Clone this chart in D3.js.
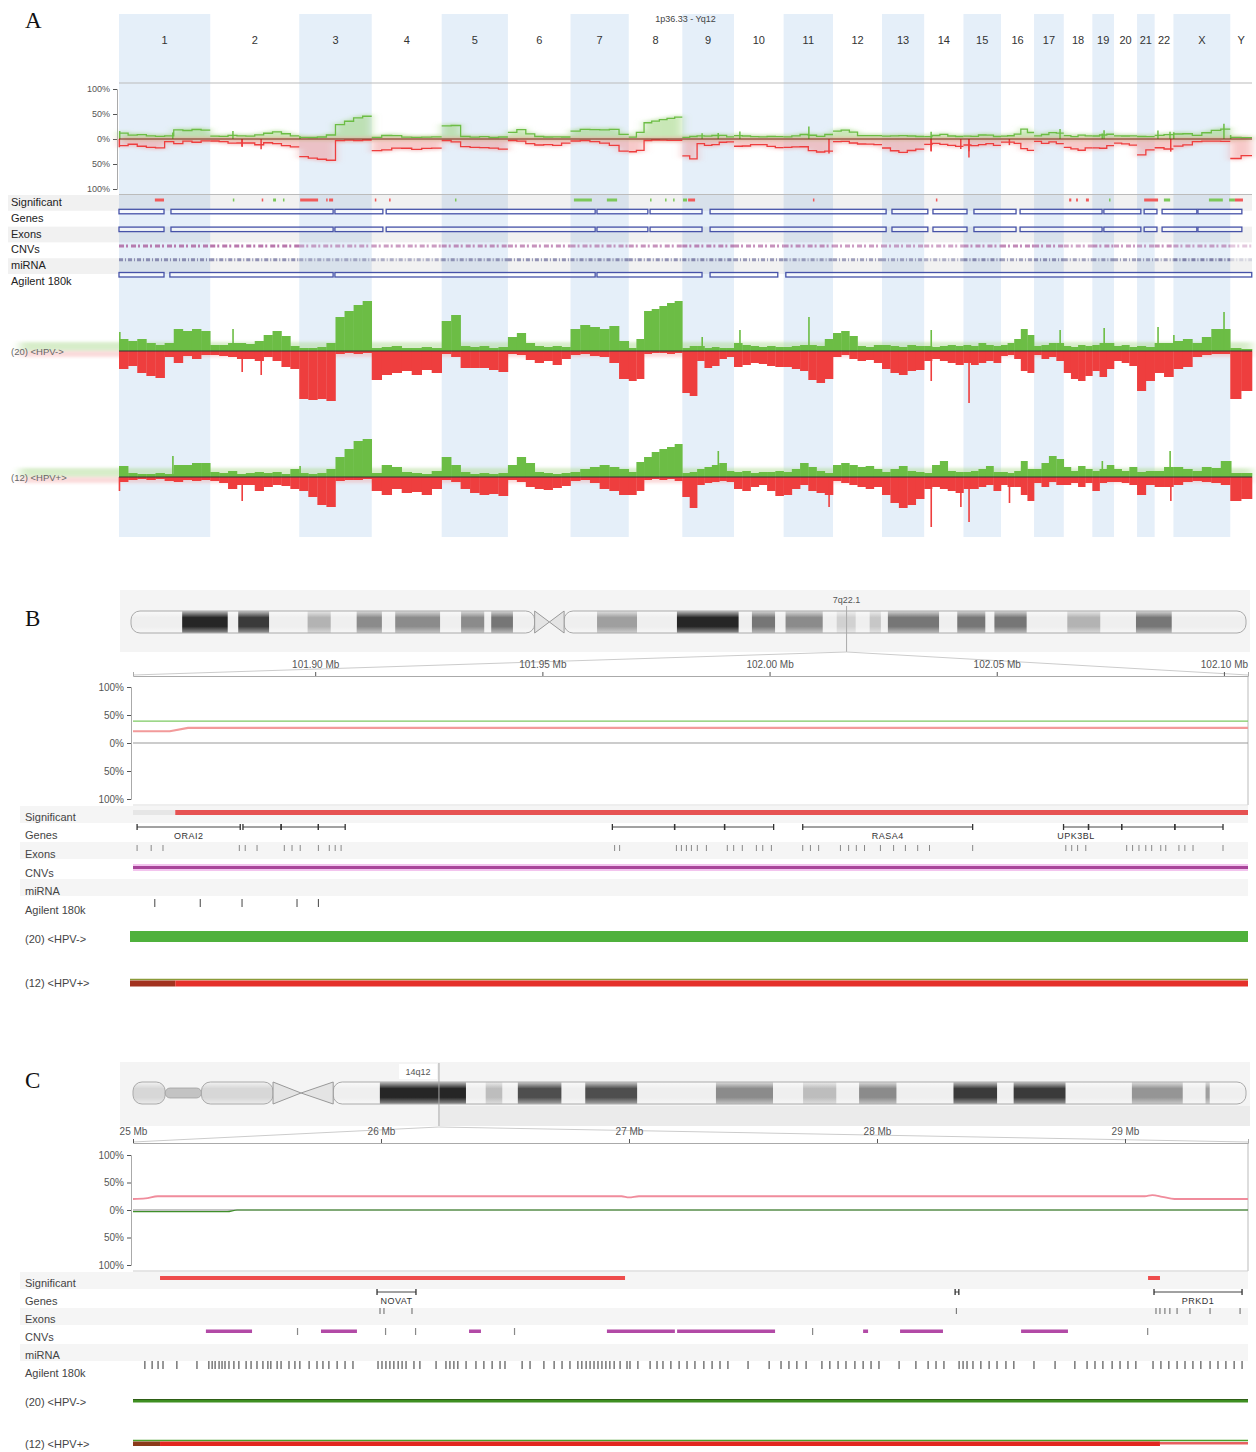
<!DOCTYPE html>
<html>
<head>
<meta charset="utf-8">
<script src="https://cdn.jsdelivr.net/npm/d3@7"></script>
<style>
  body { margin: 0; background: #fff; }
  svg { display: block; font-family: "Liberation Sans", Arial, sans-serif; }
</style>
</head>
<body>
<svg id="fig" width="1256" height="1452"></svg>
<script>
// ---------------- panel A data (genome wide) ----------------
const chromNames = ["1","2","3","4","5","6","7","8","9","10","11","12","13","14","15","16","17","18","19","20","21","22","X","Y"];
const chromLengthsMb = [249.3,243.2,198.0,191.2,180.9,171.1,159.1,146.4,141.2,135.5,135.0,133.9,115.2,107.3,102.5,90.4,81.2,78.1,59.1,63.0,48.1,51.3,155.3,59.4];

// % of samples with gain / loss, binned along each chromosome
const negGain = [
  [12,10,12,8,6,8,22,20,22,20],[6,6,8,8,7,10,16,20,15,5],[3,3,4,8,34,40,46,50],[3,4,5,3,3,4,3],
  [30,36,5,4,5,3,4],[14,18,8,5,4,5,4],[22,26,24,22,25,10],[3,12,40,42,45,48,50],
  [3,5,5,3,4,3,3],[8,6,5,4,5,4],[4,5,6,6,5,12],[18,20,15,5,4,6],
  [6,5,4,6,5],[5,4,5,6,5],[6,5,8,6,5],[6,8,12,22,16],
  [5,6,8,8],[5,4,6,5],[6,8,8],[5,6,4],[5,4],[8,8],[10,12,8,14,22,22],[3,2]
];
const negLoss = [
  [18,15,22,25,27,6,12,5,8,4],[4,5,6,8,8,10,6,10,16,18],[48,49,48,50,3,2,3,2],[29,24,22,20,24,19,22],
  [3,6,17,17,17,19,21],[3,4,9,12,10,14,8],[4,3,5,6,12,28],[30,28,3,2,2,3,2],
  [42,45,10,17,15,8,6],[16,14,12,13,15,16],[16,18,20,29,32,28],[6,4,8,10,9,12],
  [18,22,24,20,19],[10,8,10,12,14],[12,14,12,10,12],[5,4,8,20,22],
  [4,8,6,10],[22,28,30,25],[20,26,18],[10,12,15],[40,30],[22,26],[18,16,6,4,3,3],[48,40]
];
const posGain = [
  [11,4,3,3,4,3,12,12,14,14],[5,4,6,3,4,5,4,5,3,8],[4,3,4,8,20,28,36,38],[4,12,10,5,4,3,6],
  [20,12,5,3,4,3,4],[12,20,14,5,4,3,4],[5,8,10,12,10,8],[5,15,20,25,28,30,33],
  [4,5,8,10,12,14,6],[5,6,4,5,5,6],[5,8,14,10,6,4],[12,14,12,10,11,8],
  [5,8,11,6,5],[4,12,16,6,5],[5,6,8,11,5],[5,4,6,16,8],
  [8,14,21,18],[10,6,11,8],[6,8,12],[8,6,10],[5,6],[6,10],[10,8,6,10,9,16],[4,4]
];
const posLoss = [
  [5,3,2,3,2,4,5,3,4,3],[4,6,12,8,8,14,10,8,9,12],[14,20,28,30,4,3,3,2],[14,18,12,16,15,18,12],
  [3,5,12,16,18,17,19],[3,5,10,12,13,11,9],[4,3,6,12,14,18],[18,14,3,2,3,2,4],
  [20,31,8,6,5,4,5],[12,14,10,8,14,19],[18,12,8,14,16,18],[4,6,8,10,12,10],
  [18,26,31,28,22],[12,10,12,14,16],[12,12,10,8,14],[8,10,10,18,24],
  [6,10,5,8],[8,6,10,6],[14,6,5],[5,6,8],[18,8],[10,10],[8,5,4,5,6,8],[24,22]
];
// focal peaks: [chromosome, Mb, % (+ gain, - loss)]
const negSpikes = [["1",2,19],["2",62,22],["2",87,-21],["2",139,-24],["9",54,14],["10",16,21],["11",69,34],["14",19,21],["14",19,-30],["15",15,-52],["17",71,21],["19",32,23],["22",9,24],["X",1,16],["X",138,39]];
const posSpikes = [["1",1,-14],["1",147,21],["2",87,-24],["3",2,11],["9",98,26],["11",124,-30],["14",19,-50],["14",100,-30],["15",15,-45],["16",23,-26],["19",27,16],["22",42,26],["22",44,-24],["Y",1,16]];
const groupSizes = [20, 12];

// tracks in genome Mb
const sigMarks = [[98,123,"loss"],[311,314,"gain"],[390,393,"loss"],[421,429,"gain"],[448,451,"gain"],[495,544,"loss"],[566,569,"loss"],[574,585,"loss"],[699,702,"loss"],[738,741,"loss"],[918,921,"gain"],[1243,1292,"gain"],[1333,1361,"gain"],[1451,1454,"gain"],[1492,1495,"gain"],[1514,1517,"gain"],[1541,1552,"gain"],[1555,1574,"loss"],[1896,1899,"loss"],[2232,2235,"loss"],[2596,2602,"loss"],[2615,2620,"loss"],[2642,2650,"loss"],[2705,2708,"gain"],[2801,2839,"loss"],[2855,2872,"gain"],[2978,3016,"gain"],[3033,3049,"gain"],[3049,3071,"loss"]];
const geneBlocks = [[0,123],[142,585],[590,721],[730,1301],[1306,1445],[1451,1593],[1615,2096],[2112,2210],[2224,2317],[2336,2451],[2462,2686],[2691,2792],[2801,2836],[2850,2945],[2948,3068]];
const agilentBlocks = [[0,123],[139,585],[590,1301],[1306,1593],[1615,1800],[1822,3095]];
const cnvDensity = [0.7,0.75,0.5,0.55,0.6,0.6,0.55,0.6,0.65,0.6,0.6,0.55,0.5,0.5,0.6,0.65,0.6,0.5,0.6,0.55,0.5,0.6,0.5,0.3];
const mirnaDensity = [0.7,0.7,0.5,0.5,0.65,0.7,0.7,0.7,0.75,0.65,0.6,0.6,0.55,0.5,0.75,0.6,0.7,0.6,0.65,0.6,0.6,0.6,0.8,0.2];

// ---------------- panel B data (chr7, 7q22.1) ----------------
const bView = [101.8599, 102.1053];
const bTicks = [101.90, 101.95, 102.00, 102.05, 102.10];
const chr7Len = 159.1;
const chr7Cen = [57.6, 59.7, 61.8];
const chr7Bands = [[7.3,13.8,100],[15.3,19.7,90],[25.2,28.5,30],[32.2,35.8,50],[37.7,44.1,50],[47.1,50.4,50],[51.4,54.5,60],[66.5,72.2,40],[77.9,86.7,100],[88.6,91.9,60],[93.4,98.7,50],[100.7,103.4,15],[105.4,107.0,20],[108.0,115.3,60],[117.9,121.9,60],[123.2,127.8,60],[133.6,138.3,30],[143.4,148.5,60]];
const bGainLine = [[101.8599,39],[102.1053,39]];
const bLossLine = [[101.8599,21],[101.868,21],[101.872,27],[102.1053,27]];
const bSignificant = [[101.8599,101.8692,"none"],[101.8692,102.1053,"loss"]];
const bGenes = [["ORAI2",101.8608,101.8835],["",101.8841,101.8925],["",101.8925,101.9007],["",101.9007,101.9066],["",101.9654,101.9791],["",101.9791,101.9901],["",101.9901,102.0009],["RASA4",102.0073,102.0447],["UPK3BL",102.0647,102.0702],["",102.0702,102.0775],["",102.0775,102.0892],["",102.0892,102.0998]];
const bExons = [101.8608,101.8639,101.8665,101.8833,101.8846,101.8872,101.8932,101.8949,101.8967,101.9007,101.9031,101.9044,101.9057,101.9659,101.9670,101.9795,101.9806,101.9817,101.9828,101.9841,101.9861,101.9907,101.9921,101.9940,101.9971,101.9985,102.0004,102.0073,102.0090,102.0108,102.0156,102.0174,102.0191,102.0209,102.0244,102.0273,102.0299,102.0326,102.0352,102.0447,102.0652,102.0665,102.0678,102.0696,102.0786,102.0799,102.0813,102.0828,102.0841,102.0861,102.0872,102.0901,102.0914,102.0932,102.0998];
const bCnvs = [[101.70,102.20]];
const bProbes = [101.8647,101.8747,101.8839,101.8960,101.9007];
const bHpvNeg = [[101.8599,102.1053,"gain"]];
const bHpvPos = [[101.8599,101.8692,"mixed"],[101.8692,102.1053,"loss"]];

// ---------------- panel C data (chr14, 14q12) ----------------
const cView = [25.0, 29.496];
const cTicks = [25, 26, 27, 28, 29];
const chr14Len = 107.3;
const chr14Cen = [13.5, 16.2, 19.3];
const chr14Arms = [[0,3.1,1],[3.1,6.6,0.45],[6.6,13.5,1],[19.3,107.3,1]];
const chr14Bands = [[0,3.1,12],[3.1,6.6,22],[6.6,13.5,12],[23.8,32.1,100],[34.0,35.6,25],[37.1,41.3,80],[43.6,48.6,80],[56.2,61.7,50],[64.6,67.8,25],[70.0,73.6,50],[79.1,83.3,90],[84.9,89.9,90],[96.3,101.2,45],[103.4,103.8,40]];
const cLossLine = [[25,20],[25.05,21],[25.1,25],[26.97,25],[27.0,23],[27.04,25],[29.08,25],[29.11,27],[29.15,24],[29.2,20],[29.496,20]];
const cGainLine = [[25,-3],[25.38,-3],[25.42,0],[29.496,0]];
const cSignificant = [[25.109,26.984,"loss"],[29.093,29.141,"loss"]];
const cGenes = [["NOVAT",25.984,26.141],["",28.315,28.330],["PRKD1",29.117,29.472]];
const cExons = [25.996,26.012,26.125,28.320,29.125,29.141,29.161,29.181,29.210,29.262,29.343,29.464];
const cCnvs = [[25.294,25.480],[25.758,25.903],[26.355,26.403],[26.911,27.185],[27.194,27.589],[27.944,27.964],[28.093,28.266],[28.581,28.770],[25.661,25.664],[26.016,26.019],[26.137,26.140],[26.536,26.539],[27.738,27.741],[29.089,29.092]];
const cProbes = [25.048,25.077,25.101,25.121,25.177,25.258,25.306,25.319,25.331,25.347,25.359,25.371,25.387,25.407,25.427,25.456,25.476,25.500,25.524,25.544,25.556,25.581,25.597,25.629,25.653,25.673,25.710,25.742,25.766,25.790,25.823,25.855,25.887,25.988,26.004,26.020,26.036,26.052,26.069,26.085,26.101,26.133,26.157,26.222,26.262,26.278,26.294,26.310,26.343,26.383,26.415,26.448,26.480,26.500,26.569,26.601,26.657,26.698,26.730,26.762,26.794,26.810,26.827,26.843,26.859,26.875,26.891,26.907,26.923,26.940,26.964,26.992,27.004,27.036,27.085,27.113,27.137,27.169,27.202,27.234,27.266,27.302,27.335,27.367,27.399,27.480,27.565,27.613,27.645,27.677,27.714,27.778,27.810,27.843,27.875,27.911,27.944,27.976,28.008,28.089,28.157,28.206,28.238,28.270,28.331,28.347,28.363,28.387,28.419,28.452,28.484,28.520,28.552,28.633,28.718,28.798,28.847,28.879,28.911,28.948,28.980,29.012,29.044,29.113,29.145,29.177,29.210,29.242,29.274,29.306,29.343,29.375,29.407,29.440,29.472];
const cHpvNeg = [[25,29.496,"gain"]];
const cHpvPos = [[25,25.109,"mixed"],[25.109,29.141,"loss"],[29.141,29.496,"thin"]];

const trackLabels = ["Significant","Genes","Exons","CNVs","miRNA","Agilent 180k"];
const groupLabels = ["(20) <HPV->", "(12) <HPV+>"];

// ---------------- setup ----------------
const GREEN = "#6cbd45", RED = "#ee3e3e";
const svg = d3.select("#fig");
const defs = svg.append("defs");
const smear = defs.append("filter").attr("id", "smear")
  .attr("x", "-10%").attr("y", "-80%").attr("width", "120%").attr("height", "260%");
smear.append("feGaussianBlur").attr("stdDeviation", "5 1.5");
const cyl = defs.append("linearGradient").attr("id", "cyl")
  .attr("x1", 0).attr("x2", 0).attr("y1", 0).attr("y2", 1);
[[0, 0.7], [0.3, 0], [0.7, 0], [1, 0.5]].forEach(([o, a]) =>
  cyl.append("stop").attr("offset", o).attr("stop-color", "#fff").attr("stop-opacity", a));

const pct = d => Math.abs(d) + "%";

function panelLetter(t, x, y) {
  svg.append("text").attr("x", x).attr("y", y).text(t)
    .style("font-family", '"Liberation Serif", "DejaVu Serif", serif')
    .style("font-size", "23px").attr("fill", "#111");
}
function freqAxis(g, y, x, size) {
  g.append("g").attr("transform", `translate(${x},0)`)
    .call(d3.axisLeft(y).tickValues([-100, -50, 0, 50, 100]).tickSize(4).tickFormat(pct))
    .call(s => {
      s.select(".domain").attr("stroke", "#aaa");
      s.selectAll(".tick line").attr("stroke", "#555");
      s.selectAll("text").attr("fill", "#555").style("font-size", size)
        .style("font-family", '"Liberation Sans", Arial, sans-serif');
    });
}

// ================= PANEL A =================
panelLetter("A", 25, 28);
const A = svg.append("g");
const genomeLen = d3.sum(chromLengthsMb);
const chromStart = chromLengthsMb.map((_, i) => d3.sum(chromLengthsMb.slice(0, i)));
const gx = d3.scaleLinear().domain([0, genomeLen]).range([119, 1252]);
const cidx = n => chromNames.indexOf(n);

// alternate chromosome bands
const bandIdx = d3.range(chromNames.length).filter(i => i % 2 === 0 && chromNames[i] !== "Y");
A.selectAll(".cband").data(bandIdx).join("rect")
  .attr("x", i => gx(chromStart[i])).attr("y", 14)
  .attr("width", i => gx(chromStart[i] + chromLengthsMb[i]) - gx(chromStart[i]))
  .attr("height", 523).attr("fill", "#e5eff9");

A.selectAll(".clab").data(chromNames).join("text")
  .attr("x", (d, i) => gx(chromStart[i] + chromLengthsMb[i] / 2)).attr("y", 44)
  .attr("text-anchor", "middle").style("font-size", "11px").attr("fill", "#333").text(d => d);
A.append("text").attr("x", gx(genomeLen / 2)).attr("y", 22).attr("text-anchor", "middle")
  .style("font-size", "9px").attr("fill", "#444").text("1p36.33 - Yq12");

// bins for every chromosome
function bins(arr, i) {
  const n = arr[i].length, s = chromStart[i], L = chromLengthsMb[i];
  return arr[i].map((v, k) => ({ x0: s + L * k / n, x1: s + L * (k + 1) / n, v }));
}
function binAt(arr, name, mb) {
  const i = cidx(name), n = arr[i].length;
  return arr[i][Math.min(n - 1, Math.floor(mb / chromLengthsMb[i] * n))];
}
const allBins = (arr) => d3.range(chromNames.length).flatMap(i => bins(arr, i));
const combine = (a, b) => a.map((row, i) => row.map((v, k) =>
  (groupSizes[0] * v + groupSizes[1] * b[i][k]) / d3.sum(groupSizes)));
const combGain = combine(negGain, posGain), combLoss = combine(negLoss, posLoss);

// summary frequency track
const topY = d3.scaleLinear().domain([-100, 100]).range([189, 89]);
A.append("line").attr("x1", 119).attr("x2", 1252).attr("y1", 83).attr("y2", 83).attr("stroke", "#bbb");
freqAxis(A, topY, 117, "9px");
const topG = A.append("g");
topG.append("g").attr("filter", "url(#smear)").selectAll("rect")
  .data(allBins(combGain).map(d => ({ ...d, s: 1 })).concat(allBins(combLoss).map(d => ({ ...d, s: -1 }))))
  .join("rect")
  .attr("x", d => gx(d.x0)).attr("width", d => gx(d.x1) - gx(d.x0))
  .attr("y", d => d.s > 0 ? topY(d.v + 4) : topY(0) - 2)
  .attr("height", d => Math.abs(topY(d.v + 4) - topY(0)) + 2)
  .attr("fill", d => d.s > 0 ? "#9ad47a" : "#f19a9a").attr("opacity", 0.55);
function stepLine(arr) {
  return d3.range(chromNames.length).map(i => {
    const b = bins(arr, i);
    return b.map(d => [d.x0, d.v]).concat([[b[b.length - 1].x1, b[b.length - 1].v]]);
  });
}
const stepGen = d3.line().x(d => gx(d[0])).curve(d3.curveStepAfter);
topG.selectAll(".sg").data(stepLine(combGain)).join("path")
  .attr("d", d => stepGen.y(p => topY(p[1]))(d)).attr("fill", "none").attr("stroke", GREEN).attr("stroke-width", 1.3);
topG.selectAll(".sl").data(stepLine(combLoss)).join("path")
  .attr("d", d => stepGen.y(p => topY(-p[1]))(d)).attr("fill", "none").attr("stroke", RED).attr("stroke-width", 1.3);
// focal peaks in the summary
const combSpikes = negSpikes.map(([c, mb, v]) => [c, mb, (groupSizes[0] * v + groupSizes[1] * (v > 0 ? binAt(posGain, c, mb) : -binAt(posLoss, c, mb))) / 32])
  .concat(posSpikes.map(([c, mb, v]) => [c, mb, (groupSizes[1] * v + groupSizes[0] * (v > 0 ? binAt(negGain, c, mb) : -binAt(negLoss, c, mb))) / 32]));
topG.selectAll(".tsp").data(combSpikes).join("line")
  .attr("x1", d => gx(chromStart[cidx(d[0])] + d[1])).attr("x2", d => gx(chromStart[cidx(d[0])] + d[1]))
  .attr("y1", topY(0)).attr("y2", d => topY(d[2]))
  .attr("stroke", d => d[2] > 0 ? GREEN : RED).attr("stroke-width", 1.5);
A.append("line").attr("x1", 119).attr("x2", 1252).attr("y1", topY(0)).attr("y2", topY(0)).attr("stroke", "#7a2a1a").attr("stroke-width", 1);

// annotation rows
const rowTop = 195, rowH = 15.8;
A.append("line").attr("x1", 119).attr("x2", 1252).attr("y1", 194.5).attr("y2", 194.5).attr("stroke", "#bbb");
A.selectAll(".stripe").data([0, 2, 4]).join("rect")
  .attr("x", 8).attr("width", 1244).attr("y", i => rowTop + i * rowH).attr("height", rowH)
  .attr("fill", "#000").attr("opacity", 0.055);
A.selectAll(".rlab").data(trackLabels).join("text")
  .attr("x", 11).attr("y", (d, i) => rowTop + i * rowH + 11)
  .style("font-size", "11px").attr("fill", "#222").text(d => d);

A.selectAll(".sig").data(sigMarks).join("rect")
  .attr("x", d => gx(d[0])).attr("width", d => Math.max(1.5, gx(d[1]) - gx(d[0])))
  .attr("y", rowTop + 3.5).attr("height", 3)
  .attr("fill", d => d[2] === "gain" ? "#7cc85a" : "#f05a5a");
[rowTop + rowH - 1.5, rowTop + 2 * rowH + 0.5].forEach(y =>
  A.append("g").selectAll("rect").data(geneBlocks).join("rect")
    .attr("x", d => gx(d[0])).attr("width", d => gx(d[1]) - gx(d[0]))
    .attr("y", y).attr("height", 4.5).attr("fill", "#fff").attr("fill-opacity", 0.6)
    .attr("stroke", "#4652a8").attr("stroke-width", 1.3));
A.append("g").selectAll("rect").data(agilentBlocks).join("rect")
  .attr("x", d => gx(d[0])).attr("width", d => gx(d[1]) - gx(d[0]))
  .attr("y", rowTop + 5 * rowH - 1.5).attr("height", 4.5).attr("fill", "#fff").attr("fill-opacity", 0.6)
  .attr("stroke", "#4652a8").attr("stroke-width", 1.3);
A.selectAll(".cnv").data(cnvDensity).join("line")
  .attr("x1", (d, i) => gx(chromStart[i])).attr("x2", (d, i) => gx(chromStart[i] + chromLengthsMb[i]))
  .attr("y1", rowTop + 3 * rowH + 3.5).attr("y2", rowTop + 3 * rowH + 3.5)
  .attr("stroke", "#a24a90").attr("stroke-width", 3).attr("stroke-dasharray", "5 2 2 3")
  .attr("stroke-opacity", d => d);
A.selectAll(".mir").data(mirnaDensity).join("line")
  .attr("x1", (d, i) => gx(chromStart[i])).attr("x2", (d, i) => gx(chromStart[i] + chromLengthsMb[i]))
  .attr("y1", rowTop + 4 * rowH + 1.5).attr("y2", rowTop + 4 * rowH + 1.5)
  .attr("stroke", "#6a6a9a").attr("stroke-width", 3).attr("stroke-dasharray", "4 2 1 2")
  .attr("stroke-opacity", d => d);

// per-group gain / loss tracks
function groupTrack(base, gain, loss, spikes, label) {
  const y = d3.scaleLinear().domain([-100, 100]).range([base + 100, base - 100]);
  const g = A.append("g");
  g.append("rect").attr("x", 20).attr("width", 1232).attr("y", base - 9).attr("height", 9)
    .attr("fill", "#a8d88a").attr("opacity", 0.45).attr("filter", "url(#smear)");
  g.append("rect").attr("x", 20).attr("width", 1232).attr("y", base).attr("height", 6)
    .attr("fill", "#f4a4a4").attr("opacity", 0.4).attr("filter", "url(#smear)");
  g.selectAll(".gb").data(allBins(gain)).join("rect")
    .attr("x", d => gx(d.x0)).attr("width", d => gx(d.x1) - gx(d.x0) + 0.3)
    .attr("y", d => y(d.v)).attr("height", d => y(0) - y(d.v)).attr("fill", GREEN);
  g.selectAll(".lb").data(allBins(loss)).join("rect")
    .attr("x", d => gx(d.x0)).attr("width", d => gx(d.x1) - gx(d.x0) + 0.3)
    .attr("y", y(0)).attr("height", d => y(-d.v) - y(0)).attr("fill", RED);
  g.selectAll(".sp").data(spikes).join("rect")
    .attr("x", d => gx(chromStart[cidx(d[0])] + d[1]) - 0.7).attr("width", 1.6)
    .attr("y", d => d[2] > 0 ? y(d[2]) : y(0))
    .attr("height", d => Math.abs(y(d[2]) - y(0)))
    .attr("fill", d => d[2] > 0 ? GREEN : RED);
  g.append("line").attr("x1", 119).attr("x2", 1252).attr("y1", base).attr("y2", base)
    .attr("stroke", "#333").attr("stroke-width", 1);
  g.append("text").attr("x", 11).attr("y", base + 4).style("font-size", "9.5px")
    .attr("fill", "#666").text(label);
}
groupTrack(351, negGain, negLoss, negSpikes, groupLabels[0]);
groupTrack(477, posGain, posLoss, posSpikes, groupLabels[1]);

// ================= shared helpers for region panels =================
const stain = d3.scaleLinear().domain([0, 100]).range(["#efefef", "#262626"]);
function drawIdeogram(g, sx, y, h, arms, cen, bands, id) {
  const clip = defs.append("clipPath").attr("id", id);
  arms.forEach(([a, b, f]) => {
    const hh = h * f;
    clip.append("rect").attr("x", sx(a)).attr("y", y + (h - hh) / 2)
      .attr("width", sx(b) - sx(a)).attr("height", hh).attr("rx", Math.min(hh / 2, 9));
  });
  const body = g.append("g").attr("clip-path", `url(#${id})`);
  body.append("rect").attr("x", sx(0)).attr("width", sx.range()[1] - sx(0))
    .attr("y", y).attr("height", h).attr("fill", "#efefef");
  body.selectAll("rect.bd").data(bands).join("rect").attr("class", "bd")
    .attr("x", d => sx(d[0])).attr("width", d => sx(d[1]) - sx(d[0]))
    .attr("y", y).attr("height", h).attr("fill", d => stain(d[2]));
  body.append("rect").attr("x", sx(0)).attr("width", sx.range()[1] - sx(0))
    .attr("y", y).attr("height", h).attr("fill", "url(#cyl)");
  arms.forEach(([a, b, f]) => {
    const hh = h * f;
    g.append("rect").attr("x", sx(a)).attr("y", y + (h - hh) / 2)
      .attr("width", sx(b) - sx(a)).attr("height", hh).attr("rx", Math.min(hh / 2, 9))
      .attr("fill", "none").attr("stroke", "#aaa");
  });
  const [c0, cm, c1] = cen;
  g.append("path")
    .attr("d", `M${sx(c0)},${y}L${sx(cm)},${y + h / 2}L${sx(c0)},${y + h}Z M${sx(c1)},${y}L${sx(cm)},${y + h / 2}L${sx(c1)},${y + h}Z`)
    .attr("fill", "#e4e4e4").attr("stroke", "#999");
}
function posAxis(g, x, y, ticks, fmt) {
  g.append("g").attr("transform", `translate(0,${y})`)
    .call(d3.axisTop(x).tickValues(ticks).tickSize(4).tickPadding(4).tickFormat(fmt))
    .call(s => {
      s.select(".domain").attr("stroke", "#aaa");
      s.selectAll(".tick line").attr("stroke", "#555");
      s.selectAll("text").attr("fill", "#555").style("font-size", "10px")
        .style("font-family", '"Liberation Sans", Arial, sans-serif');
    });
}
function rowLabels(g, ys) {
  g.selectAll(".rl").data(ys).join("text").attr("x", 25).attr("y", d => d[1])
    .style("font-size", "11px").attr("fill", "#444").text(d => d[0]);
}
function geneTrack(g, x, genes, y) {
  genes.forEach(([name, a, b]) => {
    g.append("line").attr("x1", x(a)).attr("x2", x(b)).attr("y1", y).attr("y2", y).attr("stroke", "#444");
    [a, b].forEach(p => g.append("line").attr("x1", x(p)).attr("x2", x(p))
      .attr("y1", y - 3).attr("y2", y + 3).attr("stroke", "#333").attr("stroke-width", 1.3));
    if (name) g.append("text").attr("x", x((a + b) / 2)).attr("y", y + 12).attr("text-anchor", "middle")
      .style("font-size", "9px").style("letter-spacing", "0.5px").attr("fill", "#333").text(name);
  });
}

// ================= PANEL B =================
panelLetter("B", 25, 626);
const B = svg.append("g");
const bx = d3.scaleLinear().domain(bView).range([133, 1248]);
const c7x = d3.scaleLinear().domain([0, chr7Len]).range([131, 1246]);
B.append("rect").attr("x", 120).attr("y", 590).attr("width", 1130).attr("height", 62).attr("fill", "#f4f4f4");
B.selectAll(".stp").data([806, 842, 879]).join("rect").attr("x", 20).attr("width", 1228)
  .attr("y", d => d).attr("height", 17).attr("fill", "#f5f5f5");
drawIdeogram(B, c7x, 611, 22, [[0, chr7Cen[0], 1], [chr7Cen[2], chr7Len, 1]], chr7Cen, chr7Bands, "clip7");
const mB = c7x(bView[1]);
B.append("line").attr("x1", mB).attr("x2", mB).attr("y1", 606).attr("y2", 652).attr("stroke", "#aaa");
B.append("text").attr("x", mB).attr("y", 603).attr("text-anchor", "middle").style("font-size", "9px").attr("fill", "#555").text("7q22.1");
B.append("path").attr("d", `M133,675L${mB},652L1248,675`).attr("fill", "none").attr("stroke", "#ccc");
posAxis(B, bx, 676, bTicks, d => d.toFixed(2) + " Mb");
const by = d3.scaleLinear().domain([-100, 100]).range([799, 687]);
freqAxis(B, by, 131, "10px");
B.append("line").attr("x1", 1248).attr("x2", 1248).attr("y1", 677).attr("y2", 805).attr("stroke", "#bbb");
B.append("line").attr("x1", 133).attr("x2", 1248).attr("y1", 805).attr("y2", 805).attr("stroke", "#ddd");
B.append("line").attr("x1", 133).attr("x2", 1248).attr("y1", by(0)).attr("y2", by(0)).attr("stroke", "#999");
const bLine = d3.line().x(d => bx(d[0])).y(d => by(d[1]));
B.append("path").attr("d", bLine(bGainLine)).attr("fill", "none").attr("stroke", "#7dca62").attr("stroke-width", 1.2);
B.append("path").attr("d", bLine(bLossLine)).attr("fill", "none").attr("stroke", "#f29a9a").attr("stroke-width", 2.2);
B.selectAll(".bs").data(bSignificant).join("rect")
  .attr("x", d => bx(d[0])).attr("width", d => bx(d[1]) - bx(d[0])).attr("y", 810).attr("height", 5)
  .attr("fill", d => d[2] === "loss" ? "#e65252" : "#e6e6e6");
geneTrack(B, bx, bGenes, 827);
B.selectAll(".bex").data(bExons).join("line").attr("x1", d => bx(d)).attr("x2", d => bx(d))
  .attr("y1", 845).attr("y2", 851).attr("stroke", "#888");
B.selectAll(".bcnv").data(bCnvs).join("g").each(function (d) {
  const x0 = Math.max(bx(d[0]), 133), x1 = Math.min(bx(d[1]), 1248);
  d3.select(this).append("rect").attr("x", x0).attr("width", x1 - x0).attr("y", 864).attr("height", 7).attr("fill", "#f3c4ee");
  d3.select(this).append("rect").attr("x", x0).attr("width", x1 - x0).attr("y", 866).attr("height", 3).attr("fill", "#a8459a");
});
B.selectAll(".bpr").data(bProbes).join("line").attr("x1", d => bx(d)).attr("x2", d => bx(d))
  .attr("y1", 899).attr("y2", 907).attr("stroke", "#444");
B.selectAll(".bneg").data(bHpvNeg).join("rect").attr("x", d => bx(d[0]) - 3).attr("width", d => bx(d[1]) - bx(d[0]) + 3)
  .attr("y", 931).attr("height", 11).attr("fill", "#4fb13c");
B.append("line").attr("x1", 130).attr("x2", 1248).attr("y1", 979.5).attr("y2", 979.5).attr("stroke", "#8a9a3a").attr("stroke-width", 1.5);
B.selectAll(".bpos").data(bHpvPos).join("rect").attr("x", d => bx(d[0]) - (d[2] === "mixed" ? 3 : 0))
  .attr("width", d => bx(d[1]) - bx(d[0]) + (d[2] === "mixed" ? 3 : 0))
  .attr("y", 980.5).attr("height", 6).attr("fill", d => d[2] === "mixed" ? "#a2321f" : "#e5302a");
rowLabels(B, [["Significant", 821], ["Genes", 839], ["Exons", 858], ["CNVs", 877], ["miRNA", 895], ["Agilent 180k", 914], [groupLabels[0], 943], [groupLabels[1], 987]]);

// ================= PANEL C =================
panelLetter("C", 25, 1088);
const C = svg.append("g");
const cx = d3.scaleLinear().domain(cView).range([133, 1248]);
const c14x = d3.scaleLinear().domain([0, chr14Len]).range([133, 1246]);
const mC = c14x(cView[1]);
C.append("rect").attr("x", 120).attr("y", 1062).attr("width", 1130).attr("height", 64).attr("fill", "#f4f4f4");
C.append("rect").attr("x", mC).attr("y", 1106).attr("width", 1250 - mC).attr("height", 20).attr("fill", "#ebebeb");
C.selectAll(".stp").data([1272, 1308, 1344]).join("rect").attr("x", 20).attr("width", 1228)
  .attr("y", d => d).attr("height", 17).attr("fill", "#f5f5f5");
drawIdeogram(C, c14x, 1082, 22, chr14Arms, chr14Cen, chr14Bands, "clip14");
C.append("line").attr("x1", mC).attr("x2", mC).attr("y1", 1063).attr("y2", 1126).attr("stroke", "#aaa");
C.append("rect").attr("x", mC - 40).attr("y", 1064).attr("width", 38).attr("height", 15).attr("fill", "#fff");
C.append("text").attr("x", mC - 21).attr("y", 1075).attr("text-anchor", "middle").style("font-size", "9px").attr("fill", "#555").text("14q12");
C.append("path").attr("d", `M133,1142L${mC},1127L1248,1142`).attr("fill", "none").attr("stroke", "#ccc");
posAxis(C, cx, 1143, cTicks, d => d + " Mb");
const cy = d3.scaleLinear().domain([-100, 100]).range([1265, 1155]);
freqAxis(C, cy, 131, "10px");
C.append("line").attr("x1", 1248).attr("x2", 1248).attr("y1", 1144).attr("y2", 1271).attr("stroke", "#bbb");
C.append("line").attr("x1", 133).attr("x2", 1248).attr("y1", 1271).attr("y2", 1271).attr("stroke", "#ccc");
C.append("line").attr("x1", 133).attr("x2", 1248).attr("y1", cy(0)).attr("y2", cy(0)).attr("stroke", "#888");
const cLine = d3.line().x(d => cx(d[0])).y(d => cy(d[1])).curve(d3.curveMonotoneX);
C.append("path").attr("d", cLine(cLossLine)).attr("fill", "none").attr("stroke", "#f08c9c").attr("stroke-width", 1.8);
C.append("path").attr("d", cLine(cGainLine)).attr("fill", "none").attr("stroke", "#3f8f2a").attr("stroke-width", 1.2);
C.selectAll(".cs").data(cSignificant).join("rect")
  .attr("x", d => cx(d[0])).attr("width", d => cx(d[1]) - cx(d[0])).attr("y", 1276).attr("height", 4)
  .attr("fill", "#ee4c4c");
geneTrack(C, cx, cGenes, 1292);
C.selectAll(".cex").data(cExons).join("line").attr("x1", d => cx(d)).attr("x2", d => cx(d))
  .attr("y1", 1308).attr("y2", 1314).attr("stroke", "#666");
C.selectAll(".ccnv").data(cCnvs).join("rect")
  .attr("x", d => cx(d[0])).attr("width", d => Math.max(1.2, cx(d[1]) - cx(d[0])))
  .attr("y", d => cx(d[1]) - cx(d[0]) < 2 ? 1328 : 1329.5).attr("height", d => cx(d[1]) - cx(d[0]) < 2 ? 7 : 3.5)
  .attr("fill", d => cx(d[1]) - cx(d[0]) < 2 ? "#888" : "#b24aa6");
C.selectAll(".cpr").data(cProbes).join("line").attr("x1", d => cx(d)).attr("x2", d => cx(d))
  .attr("y1", 1361).attr("y2", 1369).attr("stroke", "#333");
C.selectAll(".cneg").data(cHpvNeg).join("rect").attr("x", d => cx(d[0])).attr("width", d => cx(d[1]) - cx(d[0]))
  .attr("y", 1399.5).attr("height", 3).attr("fill", "#3f8f22");
C.append("line").attr("x1", 133).attr("x2", 1248).attr("y1", 1399.5).attr("y2", 1399.5).attr("stroke", "#2e5e16");
C.append("line").attr("x1", 133).attr("x2", 1248).attr("y1", 1440.5).attr("y2", 1440.5).attr("stroke", "#4aa02a").attr("stroke-width", 1.5);
C.selectAll(".cpos").data(cHpvPos).join("rect").attr("x", d => cx(d[0])).attr("width", d => cx(d[1]) - cx(d[0]))
  .attr("y", d => d[2] === "thin" ? 1442 : 1441.5).attr("height", d => d[2] === "thin" ? 2.5 : 4.5)
  .attr("fill", d => d[2] === "mixed" ? "#8a3a1a" : d[2] === "thin" ? "#e86060" : "#e2261f");
rowLabels(C, [["Significant", 1287], ["Genes", 1305], ["Exons", 1323], ["CNVs", 1341], ["miRNA", 1359], ["Agilent 180k", 1377], [groupLabels[0], 1406], [groupLabels[1], 1448]]);
</script>
</body>
</html>
